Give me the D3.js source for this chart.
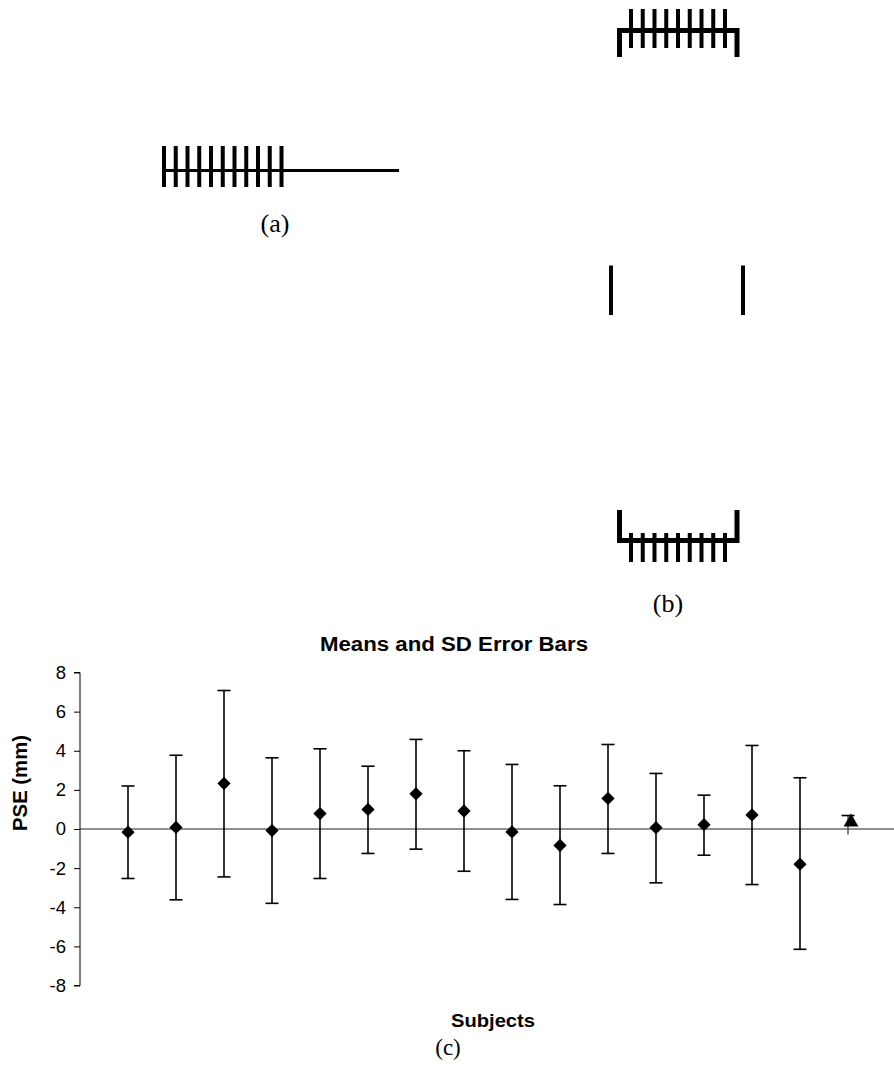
<!DOCTYPE html>
<html>
<head>
<meta charset="utf-8">
<script src="https://cdn.jsdelivr.net/npm/d3@7"></script>
<style>
  html, body { margin: 0; padding: 0; background: #fff; }
  svg { display: block; }
</style>
</head>
<body>
<svg id="fig" width="894" height="1074"></svg>
<script>
// ---------- data ----------
const subjects = [1, 2, 3, 4, 5, 6, 7, 8, 9, 10, 11, 12, 13, 14, 15];
const means  = [-0.16, 0.08, 2.33, -0.08, 0.79, 1.0, 1.8, 0.92, -0.15, -0.84, 1.56, 0.07, 0.22, 0.72, -1.8];
const upper  = [2.2, 3.77, 7.08, 3.64, 4.1, 3.21, 4.58, 4.0, 3.3, 2.21, 4.32, 2.84, 1.73, 4.27, 2.62];
const lower  = [-2.53, -3.62, -2.45, -3.8, -2.53, -1.25, -1.03, -2.16, -3.6, -3.86, -1.25, -2.75, -1.34, -2.84, -6.15];
const groupX = [16];
const groupMean  = [0.35];
const groupUpper = [0.69];
const groupLower = [-0.28];
const yTicks = [-8, -6, -4, -2, 0, 2, 4, 6, 8];
const chartTitle = "Means and SD Error Bars";
const yLabel = "PSE (mm)";
const xLabel = "Subjects";
const panelLabels = ["(a)", "(b)", "(c)"];
const combA = d3.range(11);   // filled half of figure (a)
const combB = d3.range(9);    // inner teeth of the brackets in (b)

const svg = d3.select("#fig");
const sans = "'Liberation Sans', Arial, sans-serif";
const serif = "'Liberation Serif', 'Times New Roman', serif";

// ---------- illustration (a) ----------
const ga = svg.append("g");
ga.append("line").attr("x1", 162).attr("x2", 399).attr("y1", 170.5).attr("y2", 170.5)
  .attr("stroke", "#000").attr("stroke-width", 3);
const xa = d3.scaleLinear().domain([0, combA.length - 1]).range([164, 281.5]);
ga.selectAll("rect.t").data(combA).join("rect")
  .attr("x", d => xa(d) - 2).attr("y", 146).attr("width", 4).attr("height", 41).attr("fill", "#000");
ga.append("text").attr("x", 275).attr("y", 232).attr("text-anchor", "middle")
  .attr("font-family", serif).attr("font-size", 26).text(panelLabels[0]);

// ---------- illustration (b) ----------
const gb = svg.append("g");
const xb = d3.scaleLinear().domain([0, combB.length - 1]).range([631, 725]);
// top bracket
gb.append("rect").attr("x", 617).attr("y", 28).attr("width", 122).attr("height", 5).attr("fill", "#000");
gb.append("rect").attr("x", 617).attr("y", 28).attr("width", 5).attr("height", 29).attr("fill", "#000");
gb.append("rect").attr("x", 734.5).attr("y", 28).attr("width", 5).attr("height", 29).attr("fill", "#000");
gb.selectAll("rect.tt").data(combB).join("rect")
  .attr("x", d => xb(d) - 2).attr("y", 9).attr("width", 4).attr("height", 39).attr("fill", "#000");
// middle: two end bars
gb.append("rect").attr("x", 609).attr("y", 265.5).attr("width", 4).attr("height", 49.5).attr("fill", "#000");
gb.append("rect").attr("x", 741).attr("y", 265.5).attr("width", 4).attr("height", 49.5).attr("fill", "#000");
// bottom bracket
const gb2 = svg.append("g");
gb2.append("rect").attr("x", 617).attr("y", 538).attr("width", 122).attr("height", 5).attr("fill", "#000");
gb2.append("rect").attr("x", 617).attr("y", 510).attr("width", 5).attr("height", 33).attr("fill", "#000");
gb2.append("rect").attr("x", 734.5).attr("y", 510).attr("width", 5).attr("height", 33).attr("fill", "#000");
gb2.selectAll("rect.tb").data(combB).join("rect")
  .attr("x", d => xb(d) - 2).attr("y", 533).attr("width", 4).attr("height", 29).attr("fill", "#000");
gb.append("text").attr("x", 668).attr("y", 612).attr("text-anchor", "middle")
  .attr("font-family", serif).attr("font-size", 26).text(panelLabels[1]);

// ---------- chart (c) ----------
const x = d3.scaleLinear().domain([0, 17]).range([80, 896]);
const y = d3.scaleLinear().domain([-8, 8]).range([985.5, 672.5]);

const gc = svg.append("g");
// y axis
const yAxis = d3.axisLeft(y).tickValues(yTicks).tickSize(6).tickPadding(8).tickFormat(d3.format("d"));
const ya = gc.append("g").attr("transform", "translate(80,0)").call(yAxis);
ya.select(".domain").attr("stroke", "#000").attr("d", `M-6,${y(8)}H0V${y(-8)}H-6`);
ya.selectAll(".tick line").attr("stroke", "#000");
ya.selectAll(".tick text").attr("font-family", sans).attr("font-size", 18.5).attr("fill", "#000")
  .text(d => d < 0 ? "-" + Math.abs(d) : d);
// zero line
gc.append("line").attr("x1", 80).attr("x2", 894).attr("y1", y(0)).attr("y2", y(0))
  .attr("stroke", "#222").attr("stroke-width", 1);

// error bars for subjects
const capW = 6.5;
const idx = d3.range(subjects.length);
gc.selectAll("line.eb").data(idx).join("line")
  .attr("x1", i => x(subjects[i])).attr("x2", i => x(subjects[i]))
  .attr("y1", i => y(upper[i])).attr("y2", i => y(lower[i]))
  .attr("stroke", "#000").attr("stroke-width", 1.6);
gc.selectAll("line.cu").data(idx).join("line")
  .attr("x1", i => x(subjects[i]) - capW).attr("x2", i => x(subjects[i]) + capW)
  .attr("y1", i => y(upper[i])).attr("y2", i => y(upper[i]))
  .attr("stroke", "#000").attr("stroke-width", 1.6);
gc.selectAll("line.cl").data(idx).join("line")
  .attr("x1", i => x(subjects[i]) - capW).attr("x2", i => x(subjects[i]) + capW)
  .attr("y1", i => y(lower[i])).attr("y2", i => y(lower[i]))
  .attr("stroke", "#000").attr("stroke-width", 1.6);
// diamonds
const diamond = d3.symbol().type(d3.symbolSquare).size(88);
gc.selectAll("path.dm").data(idx).join("path")
  .attr("d", diamond)
  .attr("transform", i => `translate(${x(subjects[i])},${y(means[i])}) rotate(45)`)
  .attr("fill", "#000");

// group mean (triangle)
const gi = d3.range(groupX.length);
gc.selectAll("line.geb").data(gi).join("line")
  .attr("x1", i => x(groupX[i])).attr("x2", i => x(groupX[i]))
  .attr("y1", i => y(groupUpper[i])).attr("y2", i => y(groupLower[i]))
  .attr("stroke", "#333").attr("stroke-width", 1.2);
gc.selectAll("line.gcu").data(gi).join("line")
  .attr("x1", i => x(groupX[i]) - capW).attr("x2", i => x(groupX[i]) + capW)
  .attr("y1", i => y(groupUpper[i])).attr("y2", i => y(groupUpper[i]))
  .attr("stroke", "#000").attr("stroke-width", 1.6);
const tri = d3.symbol().type(d3.symbolTriangle).size(95);
gc.selectAll("path.tr").data(gi).join("path")
  .attr("d", tri)
  .attr("transform", i => `translate(${x(groupX[i]) + 3},${y(groupMean[i])})`)
  .attr("fill", "#000");

// titles
gc.append("text").attr("x", 454).attr("y", 651).attr("text-anchor", "middle")
  .attr("font-family", sans).attr("font-weight", "bold").attr("font-size", 19.5)
  .attr("textLength", 268).attr("lengthAdjust", "spacingAndGlyphs").text(chartTitle);
gc.append("text").attr("transform", "translate(27,783) rotate(-90)").attr("text-anchor", "middle")
  .attr("font-family", sans).attr("font-weight", "bold").attr("font-size", 20)
  .attr("textLength", 96).attr("lengthAdjust", "spacingAndGlyphs").text(yLabel);
gc.append("text").attr("x", 493).attr("y", 1027).attr("text-anchor", "middle")
  .attr("font-family", sans).attr("font-weight", "bold").attr("font-size", 19)
  .attr("textLength", 84).attr("lengthAdjust", "spacingAndGlyphs").text(xLabel);
gc.append("text").attr("x", 448).attr("y", 1055).attr("text-anchor", "middle")
  .attr("font-family", serif).attr("font-size", 23).text(panelLabels[2]);
</script>
</body>
</html>
